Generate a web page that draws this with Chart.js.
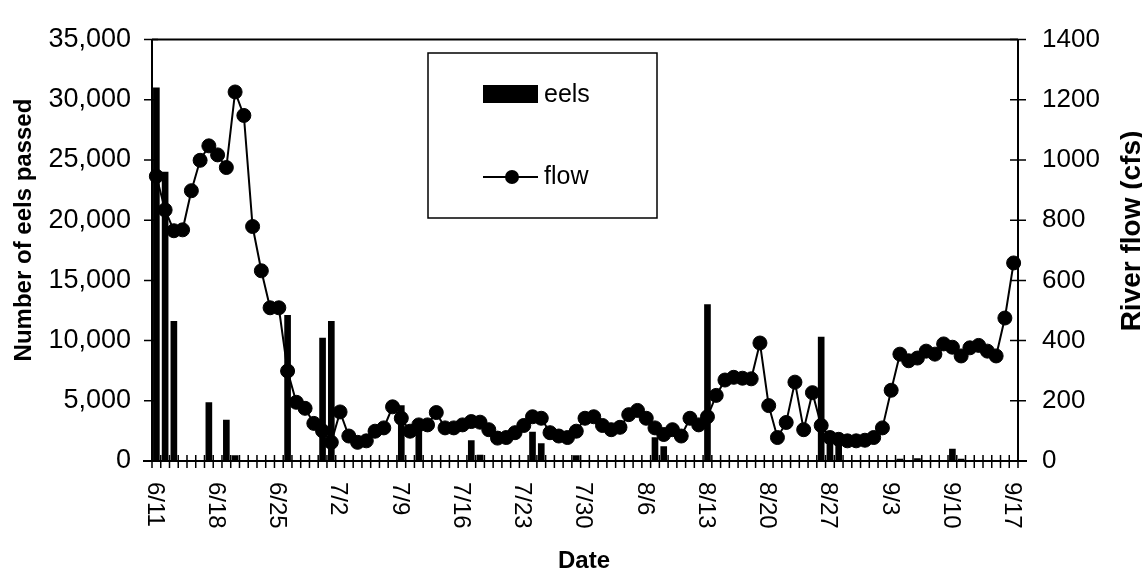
<!DOCTYPE html>
<html>
<head>
<meta charset="utf-8">
<title>Eels passed and river flow</title>
<script src="https://cdn.jsdelivr.net/npm/chart.js@4.4.0/dist/chart.umd.min.js"></script>
<style>
  body { margin: 0; background: #fff; }
  canvas { display: block; }
</style>
</head>
<body>
<canvas id="eelsChart" width="1142" height="574"></canvas>
<script>
// Fechas (dias de 6/11 a 9/17)
const fechas = [
  "6/11", "6/12", "6/13", "6/14", "6/15", "6/16", "6/17", "6/18", "6/19", "6/20",
  "6/21", "6/22", "6/23", "6/24", "6/25", "6/26", "6/27", "6/28", "6/29", "6/30",
  "7/1", "7/2", "7/3", "7/4", "7/5", "7/6", "7/7", "7/8", "7/9", "7/10",
  "7/11", "7/12", "7/13", "7/14", "7/15", "7/16", "7/17", "7/18", "7/19", "7/20",
  "7/21", "7/22", "7/23", "7/24", "7/25", "7/26", "7/27", "7/28", "7/29", "7/30",
  "7/31", "8/1", "8/2", "8/3", "8/4", "8/5", "8/6", "8/7", "8/8", "8/9",
  "8/10", "8/11", "8/12", "8/13", "8/14", "8/15", "8/16", "8/17", "8/18", "8/19",
  "8/20", "8/21", "8/22", "8/23", "8/24", "8/25", "8/26", "8/27", "8/28", "8/29",
  "8/30", "8/31", "9/1", "9/2", "9/3", "9/4", "9/5", "9/6", "9/7", "9/8",
  "9/9", "9/10", "9/11", "9/12", "9/13", "9/14", "9/15", "9/16", "9/17"
];

// Anguilas por dia
const eels = [
  31000, 24000, 11600, 0, 0, 0, 4850, 0, 3400, 450,
  0, 0, 0, 0, 0, 12100, 0, 0, 0, 10200,
  11600, 0, 0, 0, 0, 0, 0, 0, 4600, 0,
  3400, 0, 0, 0, 0, 0, 1700, 500, 0, 0,
  0, 0, 0, 2400, 1450, 0, 0, 0, 450, 0,
  0, 0, 0, 0, 0, 0, 0, 1950, 1200, 0,
  0, 0, 0, 13000, 0, 0, 0, 0, 0, 0,
  0, 0, 0, 0, 0, 0, 10300, 1400, 1300, 0,
  0, 0, 0, 0, 0, 150, 0, 200, 0, 0,
  0, 1000, 150, 0, 0, 0, 0, 0, 0
];

// Caudal del rio (cfs)
const flow = [
  946, 834, 765, 768, 898, 999, 1047, 1017, 975, 1226,
  1148, 779, 632, 509, 509, 299, 195, 175, 125, 100,
  62, 163, 83, 62, 67, 99, 110, 180, 142, 99,
  120, 120, 161, 110, 110, 120, 131, 129, 104, 76,
  78, 94, 118, 147, 142, 94, 83, 78, 99, 142,
  147, 118, 104, 112, 154, 168, 142, 110, 88, 104,
  83, 142, 120, 147, 218, 269, 278, 275, 273, 392,
  184, 78, 128, 262, 104, 227, 118, 78, 72, 67,
  67, 69, 78, 110, 235, 355, 333, 342, 365, 355,
  389, 378, 349, 376, 384, 365, 349, 475, 658
];

const etiquetaCada = 7; // una etiqueta por semana
const fuente = '"Liberation Sans", Arial, sans-serif';

// Ejes, marcas, titulos y leyenda
const decoracion = {
  id: "decoracion",
  afterDraw(chart) {
    const ctx = chart.ctx;
    const area = chart.chartArea;
    const x = chart.scales.x;
    const y = chart.scales.y;
    const y1 = chart.scales.y1;
    ctx.save();
    ctx.strokeStyle = "#000";
    ctx.fillStyle = "#000";

    ctx.lineWidth = 2;
    ctx.beginPath();
    ctx.moveTo(area.left, area.top);
    ctx.lineTo(area.right, area.top);
    ctx.moveTo(area.left, area.top);
    ctx.lineTo(area.left, area.bottom);
    ctx.moveTo(area.right, area.top);
    ctx.lineTo(area.right, area.bottom);
    ctx.moveTo(area.left - 9, area.bottom);
    ctx.lineTo(area.right + 9, area.bottom);
    ctx.stroke();

    ctx.lineWidth = 1.5;
    ctx.beginPath();
    y.ticks.forEach((t) => {
      const py = y.getPixelForValue(t.value);
      ctx.moveTo(area.left - 8, py);
      ctx.lineTo(area.left + 6, py);
    });
    y1.ticks.forEach((t) => {
      const py = y1.getPixelForValue(t.value);
      ctx.moveTo(area.right - 8, py);
      ctx.lineTo(area.right + 8, py);
    });
    for (let i = 0; i <= fechas.length; i++) {
      const px = x.getPixelForValue(i - 0.5);
      ctx.moveTo(px, area.bottom - 6);
      ctx.lineTo(px, area.bottom + 7);
    }
    ctx.stroke();

    // etiquetas de fecha giradas
    ctx.font = "24px " + fuente;
    ctx.textAlign = "left";
    ctx.textBaseline = "middle";
    fechas.forEach((f, i) => {
      if (i % etiquetaCada !== 0) return;
      const px = x.getPixelForValue(i) - 2;
      ctx.save();
      ctx.translate(px, area.bottom + 21);
      ctx.rotate(Math.PI / 2);
      ctx.fillText(f, 0, 0);
      ctx.restore();
    });

    // titulos
    ctx.font = "bold 24px " + fuente;
    ctx.textAlign = "center";
    ctx.textBaseline = "alphabetic";
    ctx.fillText("Date", 584, 568);

    ctx.save();
    ctx.translate(24, 230);
    ctx.rotate(-Math.PI / 2);
    ctx.textBaseline = "middle";
    ctx.fillText("Number of eels passed", 0, 0);
    ctx.restore();

    ctx.save();
    ctx.translate(1132, 231);
    ctx.rotate(-Math.PI / 2);
    ctx.font = "bold 28px " + fuente;
    ctx.textBaseline = "middle";
    ctx.fillText("River flow (cfs)", 0, 0);
    ctx.restore();

    // leyenda
    ctx.lineWidth = 1.5;
    ctx.strokeRect(428, 53, 229, 165);
    ctx.fillRect(483, 85, 55, 18);
    ctx.lineWidth = 2;
    ctx.beginPath();
    ctx.moveTo(483, 177);
    ctx.lineTo(538, 177);
    ctx.stroke();
    ctx.beginPath();
    ctx.arc(512, 177, 7, 0, Math.PI * 2);
    ctx.fill();
    ctx.font = "25px " + fuente;
    ctx.textAlign = "left";
    ctx.textBaseline = "middle";
    ctx.fillText("eels", 544, 95);
    ctx.fillText("flow", 544, 177);
    ctx.restore();
  }
};

new Chart("eelsChart", {
  type: "bar",
  data: {
    labels: fechas,
    datasets: [
      {
        type: "line",
        label: "flow",
        data: flow,
        yAxisID: "y1",
        borderColor: "#000",
        borderWidth: 2,
        pointRadius: 7,
        pointBackgroundColor: "#000",
        pointBorderColor: "#000",
        pointBorderWidth: 1,
        tension: 0,
        clip: false,
        order: 0
      },
      {
        label: "eels",
        data: eels,
        yAxisID: "y",
        backgroundColor: "#000",
        barThickness: 6,
        order: 1
      }
    ]
  },
  options: {
    responsive: false,
    animation: false,
    events: [],
    layout: { padding: { top: 23 } },
    plugins: {
      legend: { display: false },
      tooltip: { enabled: false }
    },
    scales: {
      x: {
        offset: true,
        grid: { display: false, drawTicks: false },
        border: { display: false },
        ticks: { display: false },
        afterFit(s) { s.height = 113; }
      },
      y: {
        position: "left",
        min: 0,
        max: 35000,
        grid: { display: false, drawTicks: false },
        border: { display: false },
        ticks: {
          stepSize: 5000,
          padding: 21,
          color: "#000",
          font: { family: fuente, size: 27 },
          callback: (v) => v.toLocaleString("en-US")
        },
        afterFit(s) { s.width = 152; }
      },
      y1: {
        position: "right",
        min: 0,
        max: 1400,
        grid: { display: false, drawTicks: false },
        border: { display: false },
        ticks: {
          stepSize: 200,
          padding: 24,
          color: "#000",
          font: { family: fuente, size: 26 },
          callback: (v) => String(v)
        },
        afterFit(s) { s.width = 124; }
      }
    }
  },
  plugins: [decoracion]
});
</script>
</body>
</html>
